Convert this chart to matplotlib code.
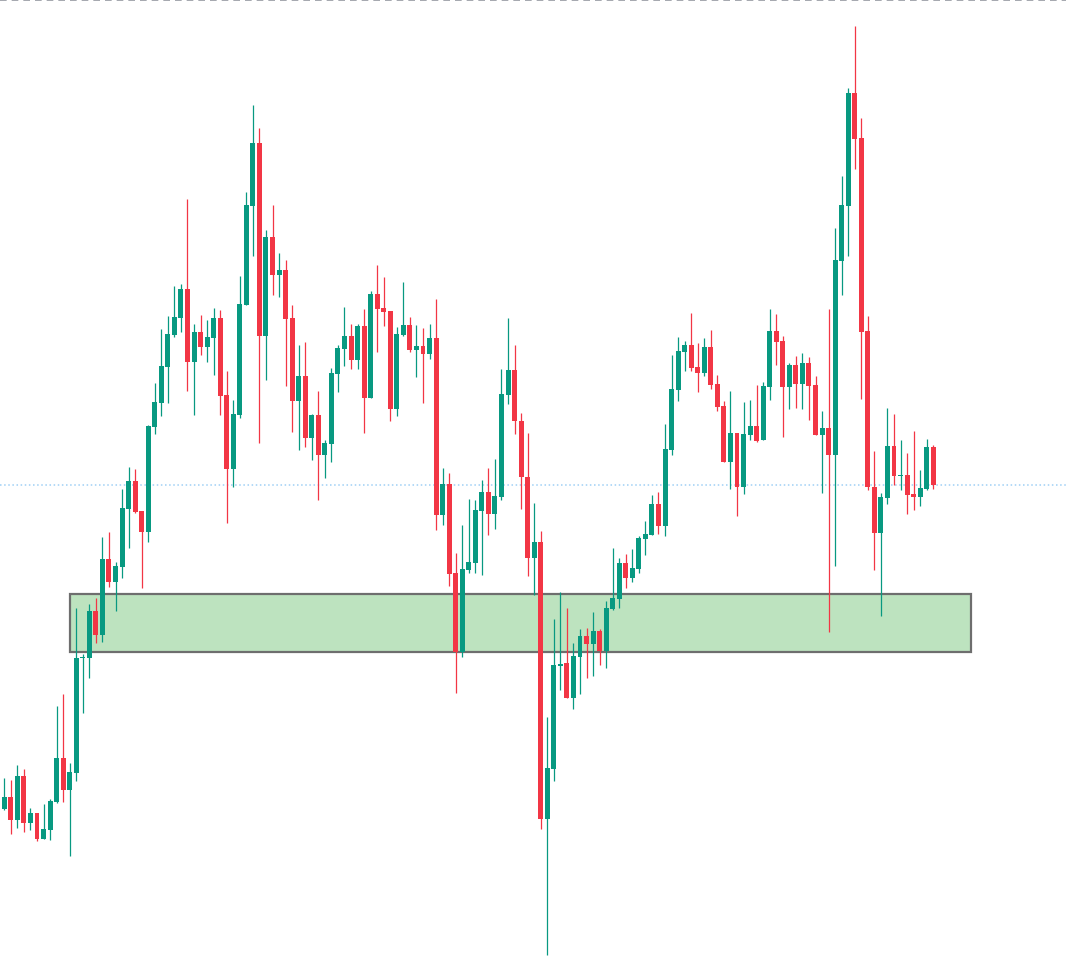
import matplotlib
matplotlib.use("Agg")
import matplotlib.pyplot as plt
from matplotlib.patches import Rectangle
import numpy as np

# OHLC values (arbitrary price units)
opens = [193, 190, 202, 179, 223, 176, 186, 160, 169, 197, 241, 209, 226, 341, 341, 388, 364, 440, 417, 432,
         490, 518, 488, 467, 572, 596, 632, 664, 681, 710, 637, 667, 652, 661, 681, 604, 530, 584, 694, 793,
         856, 663, 762, 724, 729, 681, 598, 623, 561, 584, 544, 555, 625, 650, 663, 639, 673, 601, 705, 691,
         688, 590, 664, 674, 649, 653, 645, 661, 484, 515, 426, 347, 429, 436, 488, 507, 485, 502, 604, 629,
         578, 522, 441, 457, 180, 230, 333, 336, 301, 342, 363, 355, 368, 348, 390, 400, 436, 421, 430, 460,
         464, 495, 473, 549, 609, 647, 654, 632, 626, 652, 615, 593, 537, 566, 512, 564, 573, 559, 612, 668,
         658, 612, 634, 615, 636, 614, 564, 571, 544, 738, 793, 906, 861, 668, 512, 466, 501, 553, 523, 524,
         505, 502, 510, 552]
highs = [194, 221, 219, 234, 230, 191, 186, 195, 200, 293, 305, 236, 391, 345, 395, 401, 462, 467, 437, 510,
         532, 530, 488, 574, 616, 670, 683, 713, 715, 800, 675, 684, 679, 691, 689, 628, 599, 723, 807, 894,
         871, 769, 794, 746, 739, 694, 654, 657, 585, 608, 559, 631, 654, 692, 675, 675, 690, 708, 734, 722,
         688, 672, 717, 682, 674, 671, 675, 700, 531, 526, 446, 474, 500, 499, 519, 531, 540, 630, 681, 654,
         586, 566, 496, 468, 282, 380, 407, 391, 356, 370, 371, 387, 370, 398, 451, 441, 445, 450, 463, 478,
         504, 507, 575, 644, 662, 658, 686, 656, 661, 669, 624, 598, 608, 566, 597, 599, 614, 617, 690, 685,
         663, 636, 643, 646, 642, 623, 588, 690, 771, 823, 911, 973, 881, 683, 548, 506, 591, 585, 559, 546,
         568, 529, 560, 554]
lows = [190, 189, 165, 171, 167, 169, 158, 160, 159, 196, 197, 143, 218, 286, 321, 356, 357, 412, 388, 421,
        451, 486, 411, 457, 565, 583, 596, 662, 667, 608, 584, 644, 637, 624, 584, 476, 512, 581, 694, 743,
        556, 619, 704, 702, 613, 567, 549, 552, 539, 499, 521, 537, 607, 633, 630, 630, 566, 601, 647, 673,
        578, 583, 663, 647, 622, 596, 640, 469, 474, 413, 306, 342, 426, 426, 424, 464, 470, 499, 595, 565,
        490, 423, 404, 170, 44, 218, 309, 301, 290, 305, 321, 323, 334, 331, 389, 391, 411, 417, 426, 444,
        464, 465, 463, 544, 598, 628, 628, 607, 623, 610, 588, 537, 510, 483, 505, 559, 557, 559, 599, 634,
        562, 590, 591, 590, 579, 564, 506, 367, 433, 704, 743, 830, 600, 509, 429, 383, 495, 514, 509, 485,
        489, 493, 509, 510]
closes = [191, 202, 179, 223, 176, 186, 160, 170, 198, 241, 209, 227, 341, 342, 388, 364, 440, 417, 433, 491,
          518, 487, 467, 573, 597, 633, 665, 682, 710, 637, 667, 652, 662, 681, 603, 530, 585, 695, 794, 856,
          663, 762, 724, 729, 680, 598, 623, 561, 584, 544, 556, 626, 651, 663, 639, 673, 601, 705, 690, 687,
          590, 665, 674, 649, 653, 645, 661, 484, 515, 425, 347, 430, 437, 489, 507, 485, 503, 605, 629, 578,
          522, 441, 457, 180, 231, 334, 335, 301, 343, 363, 355, 368, 348, 391, 401, 436, 421, 431, 461, 465,
          495, 473, 550, 610, 648, 654, 631, 626, 652, 614, 592, 537, 566, 512, 565, 573, 558, 613, 668, 657,
          612, 634, 615, 636, 613, 564, 571, 544, 739, 794, 906, 860, 667, 512, 466, 502, 553, 523, 524, 504,
          502, 511, 552, 514]

# highlighted demand zone
zone_low, zone_high = 347, 405
zone_start, zone_end = 11.04, 148.8

UP_COLOR = "#089981"
DOWN_COLOR = "#f23645"
ZONE_FILL = "#bde3bf"
ZONE_EDGE = "#6e6e6e"
LAST_LINE = "#9fd0f5"
TOP_LINE = "#9598a1"

fig = plt.figure(figsize=(10.66, 9.78), dpi=100)
fig.set_facecolor("white")
ax = fig.add_axes([0, 0, 1, 1])
ax.set_facecolor("white")
ax.axis("off")

o = np.array(opens, dtype=float)
h = np.array(highs, dtype=float)
l = np.array(lows, dtype=float)
c = np.array(closes, dtype=float)
x = np.arange(len(o))
up = c >= o
colors = np.where(up, UP_COLOR, DOWN_COLOR)

# zone sits under the candles
ax.add_patch(Rectangle((zone_start, zone_low), zone_end - zone_start, zone_high - zone_low,
                       facecolor=ZONE_FILL, edgecolor=ZONE_EDGE, linewidth=1.6, zorder=1))

# last price line
ax.axhline(closes[-1], color=LAST_LINE, linewidth=1.1, linestyle=(0, (1, 1.7)),
           dash_capstyle="butt", zorder=0.5)

ax.vlines(x, l, h, colors=colors, linewidth=0.9, zorder=3)
body_bottom = np.minimum(o, c)
body_height = np.maximum(np.abs(c - o), 1.0)
ax.bar(x, body_height, bottom=body_bottom, width=0.76, color=colors, edgecolor="none", zorder=4)

ax.set_xlim(0.343, 163.29)
ax.set_ylim(22, 1000)

# dashed line at the very top of the pane
ax.axhline(999.3, color=TOP_LINE, linewidth=1.2, linestyle=(0, (4, 3)), zorder=5)

fig.savefig("out.png", dpi=100, facecolor=fig.get_facecolor())
